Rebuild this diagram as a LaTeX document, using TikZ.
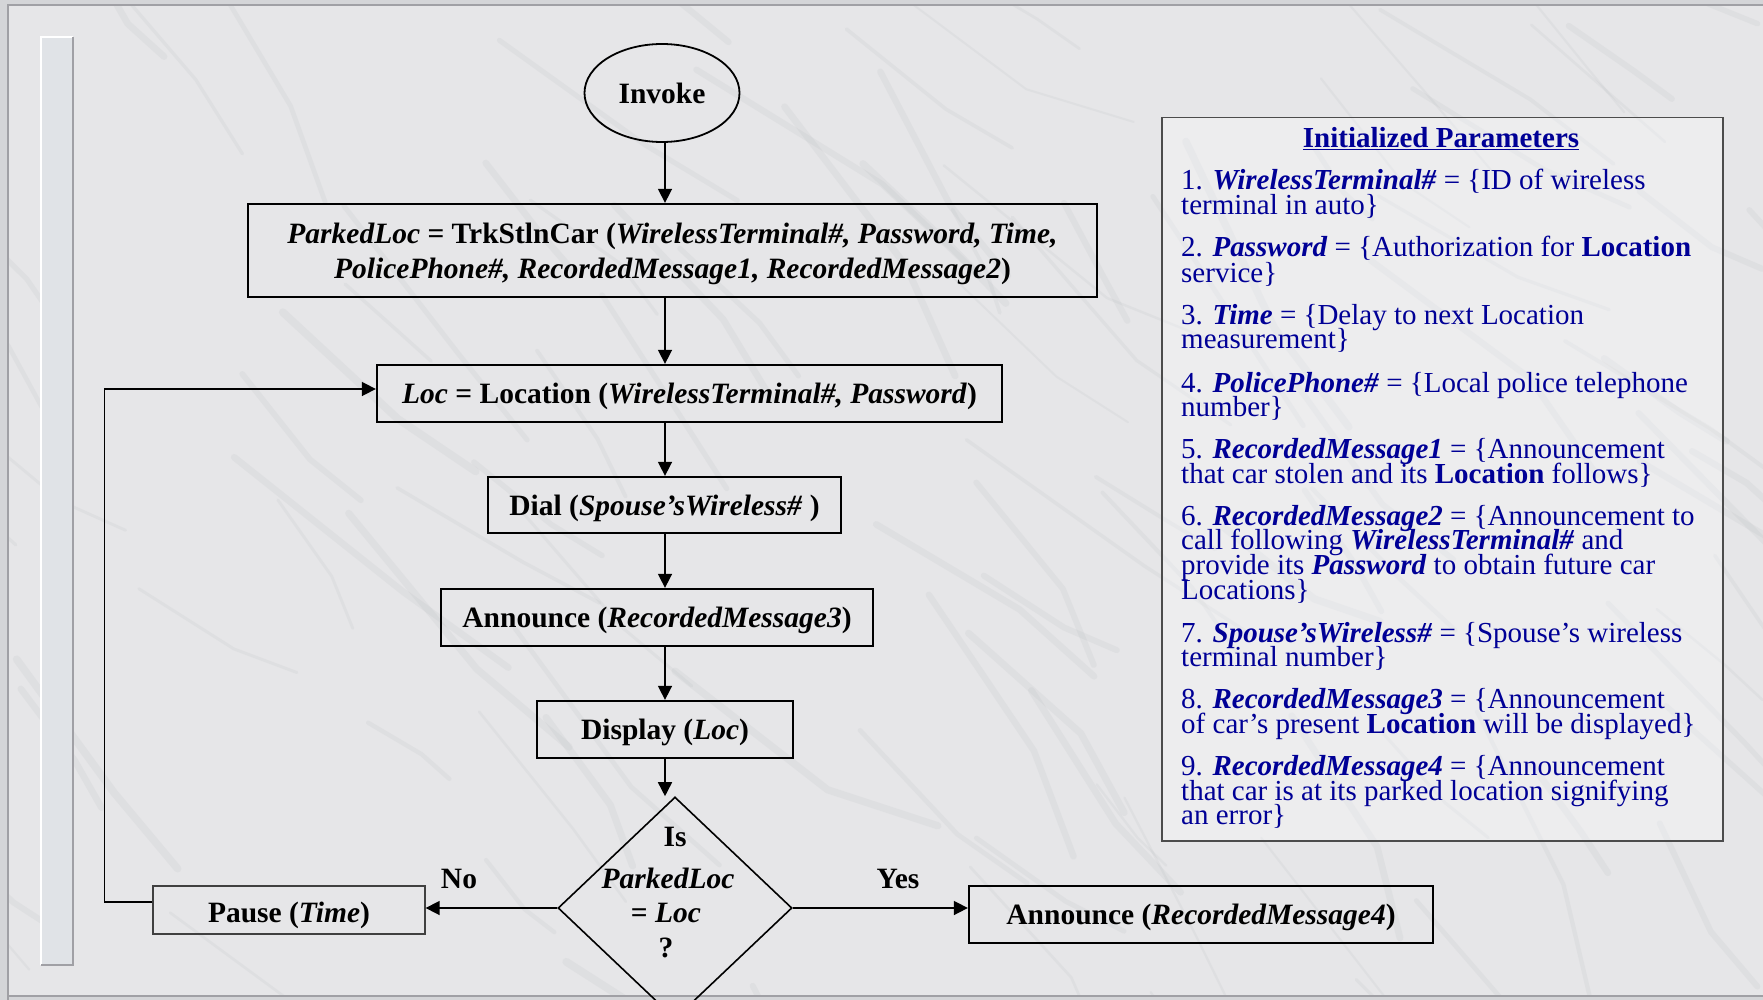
\documentclass[tikz,border=0pt]{standalone}
\usepackage{fontspec}
\setmainfont{Liberation Serif}
\usetikzlibrary{arrows.meta,shapes.geometric}
\definecolor{bgc}{RGB}{230,230,232}
\definecolor{bgdark}{RGB}{212,213,216}
\definecolor{stripc}{RGB}{224,227,231}
\definecolor{frameg}{RGB}{160,160,165}
\definecolor{navy}{RGB}{0,0,150}
\definecolor{vein}{RGB}{175,177,181}
\newcommand{\bim}[1]{\textbf{\textit{#1}}}
\tikzset{
  fc/.style={font=\fontsize{29.5}{35}\selectfont\bfseries, text=black},
  boxn/.style={fc, draw=black, line width=2.3pt, inner sep=0pt, align=center, text depth=0pt},
  arr/.style={line width=1.6pt, -{Triangle[length=14pt,width=14pt]}},
  lbl/.style={fc, anchor=base, inner sep=0pt},
  itm/.style={anchor=base west, inner sep=0pt, text=navy, font=\fontsize{29}{25}\selectfont},
}
\begin{document}
\begin{tikzpicture}[x=1pt,y=-1pt]
% background
\fill[bgdark] (0,0) rectangle (1763,1000);
\fill[bgc] (8,5) rectangle (1763,996);
\useasboundingbox (0,0) rectangle (1763,1000);
\begin{scope}
\clip (8,5) rectangle (1763,996);
\pgfmathsetseed{11}
\foreach \i in {1,...,110}{
  \pgfmathsetmacro{\xa}{rnd*1900-100}
  \pgfmathsetmacro{\ya}{rnd*1100-50}
  \pgfmathsetmacro{\ln}{60+rnd*160}
  \pgfmathsetmacro{\an}{30+rnd*35}
  \pgfmathsetmacro{\lw}{2+rnd*6}
  \draw[vein, opacity=0.13, line width=\lw pt, line cap=round, line join=round]
    (\xa,\ya) -- ++(\an:\ln) -- ++(\an+40*rnd-20:\ln*0.6);
}
\end{scope}
% frame lines
\draw[frameg, line width=2pt] (8,1000) -- (8,5) -- (1763,5);
\draw[frameg, line width=2pt] (8,996) -- (1763,996);
% left strip
\fill[stripc] (41,37) rectangle (73,965);
\draw[white, line width=2.5pt] (41,965) -- (41,37) -- (73,37);
\draw[frameg, line width=2pt] (73,37) -- (73,965) -- (41,965);

% flowchart nodes
\node[ellipse, draw=black, line width=1.8pt, minimum width=155pt, minimum height=98pt, inner sep=0pt, fc, text depth=0pt] (inv) at (662,93) {Invoke};
\node[boxn, minimum width=849pt, minimum height=93pt] (trk) at (672.5,250.5)
  {\textit{ParkedLoc} = TrkStlnCar (\textit{WirelessTerminal\#, Password, Time,}\\
   \textit{PolicePhone\#, RecordedMessage1, RecordedMessage2})};
\node[boxn, minimum width=625pt, minimum height=57pt] (loc) at (689.5,393.5)
  {\textit{Loc} = Location (\textit{WirelessTerminal\#, Password})};
\node[boxn, minimum width=353pt, minimum height=56pt] (dial) at (664.5,505)
  {Dial (\textit{Spouse’sWireless\#} )};
\node[boxn, minimum width=432pt, minimum height=57pt] (ann3) at (657,617.5)
  {Announce (\textit{RecordedMessage3})};
\node[boxn, minimum width=256pt, minimum height=57pt] (disp) at (665,729.5)
  {Display (\textit{Loc})};
\node[diamond, draw=black, line width=1.6pt, minimum width=234pt, minimum height=222pt, inner sep=0pt] (dia) at (675,908) {};
\node[lbl] (dis) at (675,846) {Is};
\node[lbl] (dpl) at (668,888) {\textit{ParkedLoc}};
\node[lbl] (deq) at (666,922) {= \textit{Loc}};
\node[lbl] (dq) at (666,957) {?};
\node[boxn, draw=black!75, line width=1.3pt, minimum width=272pt, minimum height=48pt] (pause) at (289,910)
  {\raisebox{-4pt}{Pause (\textit{Time})}};
\node[boxn, minimum width=464pt, minimum height=57pt] (ann4) at (1201,914.5)
  {Announce (\textit{RecordedMessage4})};
\node[lbl] (no) at (459,888) {No};
\node[lbl] (yes) at (898,888) {Yes};

% connectors
\coordinate (col) at (665,0);
\draw[arr] (col |- inv.south) -- (col |- trk.north);
\draw[arr] (col |- trk.south) -- (col |- loc.north);
\draw[arr] (col |- loc.south) -- (col |- dial.north);
\draw[arr] (col |- dial.south) -- (col |- ann3.north);
\draw[arr] (col |- ann3.south) -- (col |- disp.north);
\draw[arr] (col |- disp.south) -- (dia.north -| col);
\draw[arr] (dia.west) -- (dia.west -| pause.east);
\draw[arr] (dia.east) -- (dia.east -| ann4.west);
\draw[arr] ([yshift=8pt]pause.west) -- ++(-48,0) |- ([yshift=4.5pt]loc.west);

% parameters panel
\node[draw=black!70, line width=1.5pt, fill=white, fill opacity=0.3, minimum width=561pt, minimum height=723pt, anchor=north west, inner sep=0pt] (panel) at (1161,117) {};
\node[anchor=base, inner sep=0pt, text=navy, font=\fontsize{29}{30}\selectfont\bfseries] (ttl) at (1441,148) {\underline{Initialized Parameters}};
\node[itm] (p1a) at (1181,190) {1. \bim{WirelessTerminal\#} = \{ID of wireless};
\node[itm] (p1b) at (1181,215) {terminal in auto\}};
\node[itm] (p2a) at (1181,257) {2. \bim{Password} = \{Authorization for \textbf{Location}};
\node[itm] (p2b) at (1181,282) {service\}};
\node[itm] (p3a) at (1181,324) {3. \bim{Time} = \{Delay to next Location};
\node[itm] (p3b) at (1181,348) {measurement\}};
\node[itm] (p4a) at (1181,392) {4. \bim{PolicePhone\#} = \{Local police telephone};
\node[itm] (p4b) at (1181,416) {number\}};
\node[itm] (p5a) at (1181,458) {5. \bim{RecordedMessage1} = \{Announcement};
\node[itm] (p5b) at (1181,483) {that car stolen and its \textbf{Location} follows\}};
\node[itm] (p6a) at (1181,525) {6. \bim{RecordedMessage2} = \{Announcement to};
\node[itm] (p6b) at (1181,549) {call following \bim{WirelessTerminal\#} and};
\node[itm] (p6c) at (1181,574) {provide its \bim{Password} to obtain future car};
\node[itm] (p6d) at (1181,599) {Locations\}};
\node[itm] (p7a) at (1181,642) {7. \bim{Spouse’sWireless\#} = \{Spouse’s wireless};
\node[itm] (p7b) at (1181,666) {terminal number\}};
\node[itm] (p8a) at (1181,708) {8. \bim{RecordedMessage3} = \{Announcement};
\node[itm] (p8b) at (1181,733) {of car’s present \textbf{Location} will be displayed\}};
\node[itm] (p9a) at (1181,775) {9. \bim{RecordedMessage4} = \{Announcement};
\node[itm] (p9b) at (1181,800) {that car is at its parked location signifying};
\node[itm] (p9c) at (1181,824) {an error\}};
\end{tikzpicture}
\end{document}
